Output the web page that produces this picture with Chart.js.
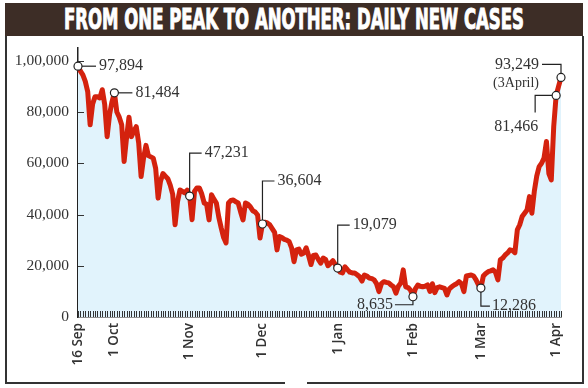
<!DOCTYPE html>
<html>
<head>
<meta charset="utf-8">
<script src="https://cdn.jsdelivr.net/npm/chart.js@4"></script>
<style>
  html, body { margin: 0; padding: 0; background: #fff; }
  #wrap { position: relative; width: 588px; height: 388px; overflow: hidden; }
  #titulo { position: absolute; left: 5px; top: 3px; width: 578px; height: 33px; background: #3d2d26; overflow: hidden; }
  #titulo span { position: absolute; left: 50%; top: 0; white-space: nowrap; color: #fff;
    font-family: "DejaVu Sans Condensed", "DejaVu Sans", sans-serif; font-weight: bold; font-size: 29px; line-height: 33px;
    -webkit-text-stroke: 1px #fff; }
  .borde { position: absolute; background: #333; }
  canvas { position: absolute; left: 0; top: 0; }
</style>
</head>
<body>
<div id="wrap">
  <div id="titulo"><span id="titulo-texto">FROM ONE PEAK TO ANOTHER: DAILY NEW CASES</span></div>
  <div class="borde" style="left:5px; top:36px; width:1.5px; height:347px;"></div>
  <div class="borde" style="left:582px; top:36px; width:1.5px; height:347px;"></div>
  <div class="borde" style="left:5px; top:382px; width:280px; height:1.5px;"></div>
  <div class="borde" style="left:307px; top:382px; width:277px; height:1.5px;"></div>
  <canvas id="myChart" width="588" height="388"></canvas>
</div>
<script>
// Datos
const fechaInicio = '2020-09-16'
const casos = [
    97900, 96000, 94500, 92000, 88000, 75000, 83000, 86000, 86000, 85500,
    88700, 83000, 70400, 79000, 84000, 87500, 80000, 78000, 75000, 60700,
    70000, 78000, 70400, 72500, 74300, 68000, 54800, 62000, 67000, 63000,
    62500, 62000, 58000, 46400, 53000, 56000, 55000, 54000, 51500, 48000,
    36000, 45000, 49600, 49000, 48400, 49500, 47200, 38000, 49000, 50400,
    50400, 48000, 44500, 44000, 37900, 47700, 46000, 44500, 39000, 34800,
    31000, 28900, 44500, 45500, 45700, 45000, 44500, 41000, 37900, 44500,
    44000, 43000, 41500, 41000, 39800, 30800, 36300, 37000, 36700, 36000,
    34500, 33000, 26200, 31400, 31000, 30300, 30000, 29400, 27000, 21600,
    26200, 26500, 24500, 25000, 27000, 24000, 20500, 24000, 24200, 22500,
    21000, 23000, 22500, 20000, 21000, 22000, 20500, 19100, 17500, 17200,
    19600, 18500, 17500, 17200, 17200, 16500, 15700, 14000, 16400, 16000,
    15200, 15000, 14500, 13000, 9900, 13000, 13800, 13500, 13300, 12500,
    11800, 9300, 12000, 13300, 18400, 11800, 11500, 10500, 7900, 11000,
    12500, 12000, 11800, 12000, 12500, 10000, 13000, 9500, 11500, 11800,
    11500, 11200, 8600, 11000, 11800, 12500, 13000, 13800, 13000, 9900,
    16000, 16200, 16400, 16000, 14500, 12500, 11300, 16000, 17000, 17700,
    18000, 18400, 17500, 14500, 22300, 23000, 24200, 25000, 26200, 26000,
    25100, 34000, 36000, 39200, 40500, 41800, 47000, 40500, 49000, 55000,
    58700, 60000, 62000, 68500, 56000, 53500, 74300, 86500, 90000, 93500
]
const etiquetasX = ['16 Sep', '1 Oct', '1 Nov', '1 Dec', '1 Jan', '1 Feb', '1 Mar', '1 Apr']
const ticksY = [0, 20000, 40000, 60000, 80000, 100000]
const etiquetasY = ['0', '20,000', '40,000', '60,000', '80,000', '1,00,000']

const notasFechas = ['16 Sep', '1 Oct', '1 Nov', '1 Dec', '1 Jan', '1 Feb', '1 Mar', '1 Apr', '3 Apr']
const notasTextos = ['97,894', '81,484', '47,231', '36,604', '19,079', '8,635', '12,286', '81,466', '93,249']
const notasExtra = ['', '', '', '', '', '', '', '', '(3April)']
const notasTipo = ['right', 'right', 'upRight', 'upRight', 'upRight', 'downLeft', 'downRight', 'leftDown', 'upLeft']

const meses = ['Jan', 'Feb', 'Mar', 'Apr', 'May', 'Jun', 'Jul', 'Aug', 'Sep', 'Oct', 'Nov', 'Dec']
const categorias = casos.map((_, i) => {
    const d = new Date(fechaInicio + 'T00:00:00Z')
    d.setUTCDate(d.getUTCDate() + i)
    return d.getUTCDate() + ' ' + meses[d.getUTCMonth()]
})

// titulo comprimido a lo ancho del original
const span = document.getElementById('titulo-texto')
span.style.transform = `translateX(-50%) scaleX(${460 / span.offsetWidth})`

const colorTexto = '#333'
const fuente = '"Liberation Serif", "Times New Roman", serif'

const marcasInternas = {
    id: 'marcasInternas',
    afterDatasetsDraw(chart) {
        const { ctx, chartArea, scales } = chart
        ctx.save()
        ctx.strokeStyle = '#333'
        ctx.lineWidth = 1
        ctx.beginPath()
        categorias.forEach((c, i) => {
            const x = Math.round(scales.x.getPixelForValue(i)) + 0.5
            ctx.moveTo(x, chartArea.bottom)
            ctx.lineTo(x, chartArea.bottom - 6)
        })
        ticksY.forEach(v => {
            if (v === 0) return
            const y = Math.round(scales.y.getPixelForValue(v)) + 0.5
            ctx.moveTo(chartArea.left, y)
            ctx.lineTo(chartArea.left + 6, y)
        })
        ctx.stroke()
        ctx.restore()
    }
}

function dibujar_nota(ctx, x, y, tipo, texto, extra) {
    let tx, ty, align = 'left'
    ctx.beginPath()
    if (tipo === 'right') {
        ctx.moveTo(x + 4, y); ctx.lineTo(x + 18, y)
        tx = x + 21; ty = y
    } else if (tipo === 'upRight') {
        ctx.moveTo(x, y - 4); ctx.lineTo(x, y - 43); ctx.lineTo(x + 12, y - 43)
        tx = x + 15; ty = y - 43
    } else if (tipo === 'downLeft') {
        ctx.moveTo(x, y + 4); ctx.lineTo(x, y + 8); ctx.lineTo(x - 18, y + 8)
        tx = x - 20; ty = y + 8; align = 'right'
    } else if (tipo === 'downRight') {
        ctx.moveTo(x, y + 4); ctx.lineTo(x, y + 18); ctx.lineTo(x + 9, y + 18)
        tx = x + 11; ty = y + 18
    } else if (tipo === 'leftDown') {
        ctx.moveTo(x - 4, y); ctx.lineTo(x - 21, y); ctx.lineTo(x - 21, y + 17)
        tx = x - 40; ty = y + 31; align = 'center'
    } else if (tipo === 'upLeft') {
        ctx.moveTo(x, y - 4); ctx.lineTo(x, y - 13); ctx.lineTo(x - 19, y - 13)
        tx = x - 22; ty = y - 13; align = 'right'
    }
    ctx.stroke()
    ctx.fillStyle = colorTexto
    ctx.textAlign = align
    ctx.textBaseline = 'middle'
    ctx.font = '16px ' + fuente
    ctx.fillText(texto, tx, ty)
    if (extra) {
        ctx.font = '14px ' + fuente
        ctx.fillText(extra, tx, ty + 19)
    }
    // marcador
    ctx.beginPath()
    ctx.arc(x, y, 4, 0, Math.PI * 2)
    ctx.fillStyle = '#fff'
    ctx.fill()
    ctx.stroke()
}

const notas = {
    id: 'notas',
    afterDatasetsDraw(chart) {
        const { ctx } = chart
        const meta = chart.getDatasetMeta(0)
        ctx.save()
        ctx.strokeStyle = '#222'
        ctx.lineWidth = 1.2
        notasFechas.forEach((f, k) => {
            const i = categorias.indexOf(f)
            const p = meta.data[i]
            dibujar_nota(ctx, p.x, p.y, notasTipo[k], notasTextos[k], notasExtra[k])
        })
        ctx.restore()
    }
}

const data = {
    labels: categorias,
    datasets: [{
        label: 'Daily new cases',
        data: casos,
        borderColor: '#d4220e',
        backgroundColor: '#e1f3fc',
        borderWidth: 5,
        borderJoinStyle: 'round',
        borderCapStyle: 'round',
        pointRadius: 0,
        tension: 0,
        fill: 'origin'
    }]
}

const config = {
    type: 'line',
    data: data,
    options: {
        responsive: false,
        animation: false,
        devicePixelRatio: 1,
        layout: { padding: { left: 0, right: 27, top: 48, bottom: 11 } },
        plugins: { legend: { display: false }, tooltip: { enabled: false } },
        scales: {
            x: {
                type: 'category',
                offset: false,
                grid: { display: false, drawTicks: false },
                border: { display: true, color: '#222', width: 1.5 },
                ticks: {
                    autoSkip: false,
                    minRotation: 90,
                    maxRotation: 90,
                    padding: 6,
                    color: colorTexto,
                    font: { family: '"Open Sans", "Noto Sans", sans-serif', size: 13.5, weight: '600' },
                    callback: (v, i) => etiquetasX.includes(categorias[i]) ? categorias[i] : ''
                },
                afterFit(scale) { scale.height = 60 }
            },
            y: {
                min: 0,
                max: 105000,
                afterBuildTicks(scale) { scale.ticks = ticksY.map(v => ({ value: v })) },
                grid: { display: false, drawTicks: false },
                border: { display: true, color: '#222', width: 1.5 },
                ticks: {
                    padding: 9,
                    color: colorTexto,
                    font: { family: fuente, size: 15.5 },
                    callback: (v, i) => etiquetasY[i]
                },
                afterFit(scale) { scale.width = 78 }
            }
        }
    },
    plugins: [marcasInternas, notas]
}

var myChart = new Chart(document.getElementById('myChart'), config)
</script>
</body>
</html>
